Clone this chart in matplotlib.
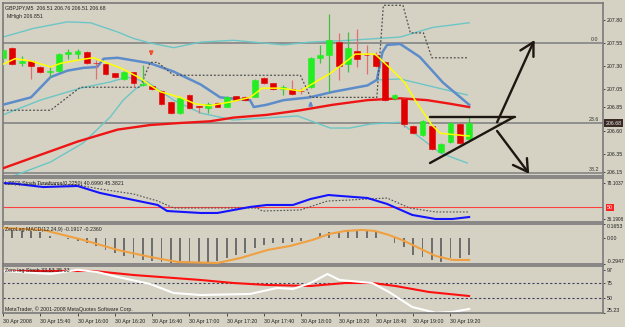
import matplotlib.pyplot as plt
from matplotlib.transforms import blended_transform_factory

# ---- candles GBPJPY M5, bar index 0..50 (15:20 .. 19:30)
opens  = [207.39, 207.50, 207.33, 207.36, 207.29, 207.235, 207.25, 207.43, 207.43, 207.45,
          207.335, 207.32, 207.22, 207.16, 207.235, 207.09, 207.08, 207.03, 206.91, 206.79,
          206.99, 206.865, 206.845, 206.90, 206.855, 206.975, 206.965, 206.965, 207.17, 207.115,
          207.05, 207.05, 207.03, 207.07, 207.39, 207.42, 207.56, 207.32, 207.46, 207.42,
          207.42, 207.34, 206.95, 206.94, 206.65, 206.55, 206.65, 206.37, 206.475, 206.67, 206.51]
highs  = [207.49, 207.51, 207.41, 207.37, 207.30, 207.30, 207.44, 207.48, 207.49, 207.46,
          207.37, 207.33, 207.23, 207.25, 207.24, 207.31, 207.09, 207.04, 206.92, 206.96,
          207.00, 206.87, 206.91, 206.91, 206.97, 206.98, 206.97, 207.16, 207.18, 207.12,
          207.09, 207.15, 207.06, 207.40, 207.53, 207.865, 207.66, 207.67, 207.70, 207.53,
          207.45, 207.35, 207.00, 206.95, 206.66, 206.71, 206.66, 206.46, 206.69, 206.68, 206.76]
lows   = [207.37, 207.31, 207.30, 207.16, 207.23, 207.18, 207.24, 207.38, 207.38, 207.32,
          207.16, 207.20, 207.17, 207.15, 207.07, 207.08, 207.04, 206.88, 206.78, 206.78,
          206.83, 206.79, 206.79, 206.85, 206.85, 206.92, 206.92, 206.96, 207.11, 207.04,
          206.99, 206.99, 207.00, 207.06, 207.33, 207.02, 207.15, 207.235, 207.29, 207.21,
          207.29, 206.92, 206.93, 206.64, 206.56, 206.54, 206.39, 206.36, 206.46, 206.45, 206.51]
closes = [207.47, 207.32, 207.36, 207.30, 207.24, 207.245, 207.43, 207.45, 207.46, 207.33,
          207.33, 207.21, 207.18, 207.235, 207.12, 207.10, 207.05, 206.89, 206.79, 206.95,
          206.845, 206.86, 206.89, 206.855, 206.965, 206.93, 206.93, 207.15, 207.115, 207.05,
          207.07, 207.00, 207.025, 207.39, 207.42, 207.58, 207.30, 207.50, 207.38, 207.415,
          207.30, 206.93, 206.99, 206.67, 206.57, 206.70, 206.40, 206.45, 206.68, 206.465, 206.68]

# ---- indicator lines on the price pane (bar, price)
yellow_bars = [0, 1.3, 3.0, 5.1, 6.2, 8.3, 9.7, 11.0, 12.6, 14.7, 15.8, 16.9, 19.0, 20.6, 22.2,
               24.4, 26.5, 27.8, 29.7, 31.9, 32.9, 35.1, 36.7, 37.8, 39.9, 41.5, 43.1, 44.2, 46.0, 46.9, 50.0]
yellow_vals = [207.32, 207.38, 207.355, 207.29, 207.33, 207.37, 207.39, 207.34, 207.28, 207.17, 207.09,
               207.02, 206.96, 206.89, 206.87, 206.91, 206.96, 207.06, 207.06, 207.03, 207.09, 207.22,
               207.34, 207.43, 207.43, 207.28, 207.12, 206.93, 206.66, 206.57, 206.54]
blue_bars = [0, 3.0, 5.1, 6.9, 8.6, 10.1, 10.8, 12.3, 15.8, 18.3, 21.2, 23.3, 26.5, 26.9, 28.3,
             30.1, 32.9, 35.4, 39.1, 40.1, 40.7, 41.2, 42.6, 44.7, 47.2, 50.0]
blue_vals = [206.88, 206.96, 207.18, 207.25, 207.28, 207.29, 207.38, 207.39, 207.33, 207.24, 207.10,
             206.96, 206.93, 206.855, 206.88, 206.93, 206.96, 207.02, 207.09, 207.15, 207.45, 207.53,
             207.54, 207.40, 207.12, 206.88]
redma_bars = [0, 3.3, 8.0, 12.3, 15.8, 18.7, 22.2, 24.7, 28.3, 31.9, 35.4, 39.1, 42.6, 45.5, 48.0, 50.0]
redma_vals = [206.19, 206.31, 206.48, 206.61, 206.66, 206.68, 206.70, 206.74, 206.77, 206.82, 206.88,
              206.93, 206.95, 206.93, 206.89, 206.855]
band_up_bars = [0, 3.3, 6.9, 9.4, 12.3, 14.0, 15.8, 18.3, 21.2, 24.7, 30.1, 32.9, 37.2, 42.6, 46.1, 50.0]
band_up_vals = [207.615, 207.71, 207.78, 207.77, 207.67, 207.60, 207.55, 207.50, 207.56, 207.58,
                207.53, 207.56, 207.58, 207.615, 207.72, 207.77]
band_mid_bars = [0, 4.0, 8.3, 11.5, 13.3, 15.5, 18.3, 21.2, 24.7, 31.6, 35.1, 37.2, 39.4, 42.6, 46.9, 49.8]
band_mid_vals = [206.77, 206.93, 207.06, 207.127, 207.18, 207.127, 206.93, 206.79, 206.714, 206.758,
                 206.627, 206.627, 206.67, 206.69, 206.356, 206.247]
band_lo_bars = [1.1, 5.1, 8.6, 11.5, 12.9, 14.2, 15.5]
band_lo_vals = [206.106, 206.258, 206.465, 206.747, 206.931, 207.05, 207.127]
band_e_bars = [40.1, 42.6, 49.8]
band_e_vals = [207.149, 207.16, 206.986]
stop_bars = [0, 5.1, 8.3, 14.7, 15.8, 16.6, 18.3, 31.9, 33.0, 40.1, 40.8, 42.9, 43.7, 45.1, 46.0, 49.9]
stop_vals = [206.82, 206.82, 207.07, 207.07, 207.34, 207.34, 207.20, 207.20, 206.96, 206.96, 207.96,
             207.96, 207.66, 207.66, 207.39, 207.39]
signal_bars = [15.9, 33.0]
signal_prices = [207.43, 206.90]
signal_dirs = ['down', 'up']

fib_0 = 207.55
fib_range = 3.69
fib_levels = [0.0, 23.6, 38.2]

# hand drawn lines (bar, price)
tri_top = [(45.8, 206.747), (54.9, 206.747)]
tri_low = [(45.8, 206.247), (54.8, 206.747)]
arrow_up = [(53.0, 206.69), (56.9, 207.56)]
arrow_up_head = [(55.5, 207.47), (56.9, 207.56), (56.9, 207.40)]
arrow_dn = [(53.0, 206.595), (56.3, 206.15)]
arrow_dn_head = [(54.7, 206.226), (56.3, 206.15), (56.2, 206.30)]

price_ticks = [207.80, 207.55, 207.30, 207.05, 206.85, 206.60, 206.35, 206.15]
last_price = 206.68

# ---- sub pane 1 (stoch timeframe)
stf_bars = [0, 1.1, 4.3, 8.0, 10.4, 14.0, 16.6, 17.6, 21.2, 23.0, 26.5, 28.3, 31.1, 33.0, 34.9, 36.2,
            39.1, 41.2, 43.9, 46.4, 48.2, 50.0]
stf_vals = [78.0, 77.5, 73.4, 74.6, 66.5, 58.3, 52.5, 45.5, 43.2, 43.2, 50.2, 52.5, 52.5, 59.5, 64.1,
            63.0, 60.6, 53.7, 40.9, 36.2, 36.2, 38.5]
stf_sig_bars = [3.0, 8.0, 10.4, 14.0, 16.6, 18.3, 27.3, 27.8, 31.9, 34.8, 37.2, 41.2, 43.6, 46.4, 50.0]
stf_sig_vals = [76.9, 75.8, 71.1, 65.3, 57.1, 49.0, 49.0, 45.5, 46.7, 57.1, 58.3, 60.6, 49.0, 44.4, 44.4]

# ---- ZeroLag MACD
macd_hist = [0.12, 0.10, 0.09, 0.09, 0.07, 0.03, 0.01, -0.01, -0.03, -0.05,
             -0.09, -0.13, -0.17, -0.20, -0.23, -0.25, -0.26, -0.27, -0.28, -0.28,
             -0.28, -0.28, -0.27, -0.26, -0.23, -0.19, -0.17, -0.11, -0.08, -0.05,
             -0.05, -0.04, -0.03, 0.00, 0.06, 0.07, 0.07, 0.085, 0.085, 0.085,
             0.075, 0.005, -0.05, -0.10, -0.19, -0.21, -0.25, -0.27, -0.23, -0.23, -0.19]
macd_sig_bars = [0, 4.3, 8.6, 12.3, 15.8, 18.7, 23.0, 25.5, 28.4, 30.8, 33.2, 35.0, 36.7, 38.5, 39.9,
                 41.4, 42.8, 44.6, 46.4, 48.2, 50.0]
macd_sig_vals = [0.12, 0.097, -0.018, -0.133, -0.214, -0.271, -0.283, -0.225, -0.133, -0.087, -0.018,
                 0.051, 0.085, 0.097, 0.085, 0.039, -0.018, -0.11, -0.202, -0.248, -0.248]

# ---- Zero lag stoch
sto_red_bars = [0, 9.7, 14.0, 21.2, 24.7, 28.3, 33.0, 36.7, 39.6, 42.1, 45.7, 50.0]
sto_red_vals = [95, 95, 88.3, 80, 75, 71.7, 70, 75, 75, 70, 60, 53.3]
sto_white_bars = [0, 5.1, 8.0, 10.1, 12.3, 15.8, 18.3, 21.2, 26.5, 29.4, 31.1, 33.0, 34.8, 36.1, 39.6,
                  41.4, 43.9, 46.4, 48.2, 50.0]
sto_white_vals = [95, 90, 97, 93.3, 85, 73.3, 58.3, 55, 56.7, 66.7, 65, 75, 90, 80, 75, 60, 35, 25.3,
                  26.7, 31.7]

time_ticks = [0, 4, 8, 12, 16, 20, 24, 28, 32, 36, 40, 44, 48]
time_labels = ['30 Apr 2008', '30 Apr 15:40', '30 Apr 16:00', '30 Apr 16:20', '30 Apr 16:40',
               '30 Apr 17:00', '30 Apr 17:20', '30 Apr 17:40', '30 Apr 18:00', '30 Apr 18:20',
               '30 Apr 18:40', '30 Apr 19:00', '30 Apr 19:20']

bg = '#d5d2c4'
frame = '#7a7a7a'
fs = 3.8
plt.rcParams['font.family'] = ['Liberation Sans', 'DejaVu Sans']

W, H = 625, 327
fig = plt.figure(figsize=(6.25, 3.27), dpi=100)
fig.patch.set_facecolor(bg)


def box(x0, y0, x1, y1):
    return [x0 / W, 1 - y1 / H, (x1 - x0) / W, (y1 - y0) / H]


ax = fig.add_axes(box(3, 3, 603, 176))
ax1 = fig.add_axes(box(3, 178, 603, 222), sharex=ax)
ax2 = fig.add_axes(box(3, 224, 603, 264), sharex=ax)
ax3 = fig.add_axes(box(3, 266, 603, 313), sharex=ax)

for a in (ax, ax1, ax2, ax3):
    a.set_facecolor(bg)
    for s in a.spines.values():
        s.set_color(frame)
        s.set_linewidth(1.2)
    a.yaxis.tick_right()
    a.tick_params(axis='y', labelsize=fs, length=1.5, width=0.6, color='#303030', pad=1.0,
                  labelcolor='#202020')
    a.tick_params(axis='x', bottom=False, labelbottom=False)
ax.set_xlim(0.05, 64.36)

# ---- price pane
ax.set_ylim(206.106, 207.985)
for r in fib_levels:
    p = fib_0 - r / 100 * fib_range
    ax.axhline(p, color='#8a8a8a', lw=1.3, zorder=1)
    ax.text(63.9, p + 0.012, '%.1f' % r, fontsize=fs, ha='right', va='bottom', color='#303030')

ax.plot(band_up_bars, band_up_vals, color='#6cc6c6', lw=1.0, zorder=2)
ax.plot(band_mid_bars, band_mid_vals, color='#6cc6c6', lw=1.0, zorder=2)
ax.plot(band_lo_bars, band_lo_vals, color='#6cc6c6', lw=1.0, zorder=2)
ax.plot(band_e_bars, band_e_vals, color='#6cc6c6', lw=1.0, zorder=2)
ax.plot(redma_bars, redma_vals, color='#ee1515', lw=1.7, zorder=3)
ax.plot(blue_bars, blue_vals, color='#5d8ccb', lw=1.8, zorder=3)
ax.plot(stop_bars, stop_vals, color='#505050', lw=0.9, ls=(0, (1.5, 1.5)), zorder=3)

for i in range(len(opens)):
    up = closes[i] >= opens[i]
    c = '#22ee22' if up else '#e00000'
    wc = '#40c040' if up else '#e07070'
    ax.vlines(i, lows[i], highs[i], color=wc, lw=0.9, zorder=4)
    lo = min(opens[i], closes[i])
    h = max(abs(closes[i] - opens[i]), 0.008)
    ax.bar(i, h, bottom=lo, width=0.62, color=c, edgecolor=c, lw=0.4, zorder=5)

ax.plot(yellow_bars, yellow_vals, color='#ffff00', lw=1.1, zorder=6)

for b, p, d in zip(signal_bars, signal_prices, signal_dirs):
    if d == 'down':
        ax.annotate('', xy=(b, p - 0.05), xytext=(b, p + 0.04),
                    arrowprops=dict(arrowstyle='-|>', color='#f05030', lw=1.3, mutation_scale=5))
    else:
        ax.annotate('', xy=(b, p + 0.05), xytext=(b, p - 0.05),
                    arrowprops=dict(arrowstyle='-|>', color='#5d8ccb', lw=1.3, mutation_scale=5))

for seg in (tri_top, tri_low, arrow_up, arrow_up_head, arrow_dn, arrow_dn_head):
    ax.plot([q[0] for q in seg], [q[1] for q in seg], color='#1e1610', lw=1.7, zorder=7,
            solid_capstyle='round')

ax.set_yticks(price_ticks)
ax.set_yticklabels(['%.2f' % v for v in price_ticks])
trans = blended_transform_factory(ax.transAxes, ax.transData)
ax.text(1.004, last_price, '%.2f' % last_price, transform=trans, fontsize=fs, color='#f0f0f0',
        va='center', ha='left', bbox=dict(boxstyle='square,pad=0.25', fc='#3a2a24', ec='none'),
        zorder=10, clip_on=False)
ax.text(0.003, 0.985, 'GBPJPY,M5  206.51 206.76 206.51 206.68', transform=ax.transAxes,
        fontsize=fs, va='top', color='#202020')
ax.text(0.006, 0.935, 'MHigh 206.851', transform=ax.transAxes, fontsize=fs, va='top', color='#202020')

# ---- stoch timeframe pane
ax1.set_ylim(32.7, 83.9)
ax1.axhline(50, color='#ff4040', lw=0.8)
ax1.plot(stf_sig_bars, stf_sig_vals, color='#505050', lw=0.8, ls=(0, (1.5, 1.5)))
ax1.plot(stf_bars, stf_vals, color='#1414ff', lw=1.5)
ax1.set_yticks([78.1037, 36.1908])
ax1.set_yticklabels(['78.1037', '36.1908'], fontsize=3.4)
t1 = blended_transform_factory(ax1.transAxes, ax1.transData)
ax1.text(1.006, 50, '50', transform=t1, fontsize=fs, color='white', va='center',
         bbox=dict(boxstyle='square,pad=0.2', fc='#ff2020', ec='none'), clip_on=False)
ax1.text(0.003, 0.93, 'LZZ(2) Stoch Timeframe(0.2250) 40.6990 45.3821', transform=ax1.transAxes,
         fontsize=fs, va='top', color='#202020')

# ---- MACD pane
ax2.set_ylim(-0.2947, 0.1653)
ax2.bar(range(len(macd_hist)), macd_hist, width=0.2, color='#6e6e6e', zorder=2)
ax2.plot(macd_sig_bars, macd_sig_vals, color='#f0a040', lw=1.5, zorder=3)
ax2.set_yticks([0.1653, 0.0, -0.2947])
ax2.set_yticklabels(['0.1653', '0.00', '-0.2947'])
ylab = ax2.get_yticklabels()
ylab[0].set_va('top')
ylab[2].set_va('bottom')
ax2.text(0.003, 0.93, 'ZeroLag MACD(12,24,9) -0.1917 -0.2360', transform=ax2.transAxes,
         fontsize=fs, va='top', color='#202020')

# ---- Zero lag stoch pane
ax3.set_ylim(25.0, 103.3)
for lv in (75, 50):
    ax3.axhline(lv, color='#404060', lw=0.8, ls=(0, (2, 2)))
ax3.plot(sto_red_bars, sto_red_vals, color='#ff1010', lw=1.5)
ax3.plot(sto_white_bars, sto_white_vals, color='white', lw=1.5)
ax3.set_yticks([97, 75, 50, 25.23])
ax3.set_yticklabels(['97', '75', '50', '25.23'])
ax3.get_yticklabels()[3].set_va('bottom')
ax3.text(0.003, 0.95, 'Zero lag Stoch 33.53 35.33', transform=ax3.transAxes,
         fontsize=fs, va='top', color='#202020')
ax3.text(0.003, 0.03, 'MetaTrader, \u00a9 2001-2008 MetaQuotes Software Corp.', transform=ax3.transAxes,
         fontsize=fs, va='bottom', color='#202020')

ax3.set_xticks(time_ticks)
ax3.set_xticklabels(time_labels)
ax3.tick_params(axis='x', bottom=True, labelbottom=True, labelsize=fs, length=2.5, width=0.6,
                color='#303030', pad=2, labelcolor='#202020')
for lab in ax3.get_xticklabels():
    lab.set_ha('left')

fig.savefig('out.png', dpi=100, facecolor=bg)
